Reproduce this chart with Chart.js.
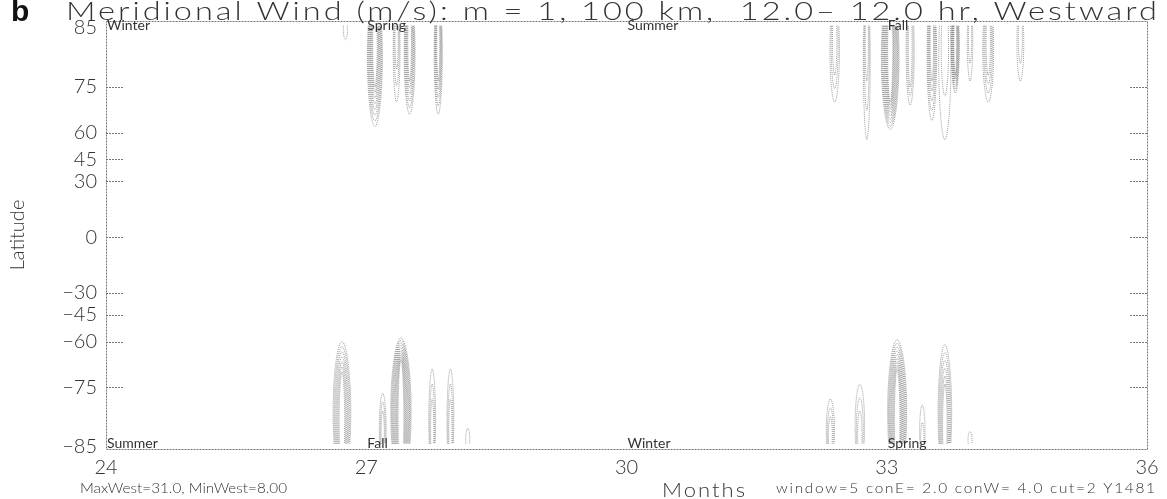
<!DOCTYPE html>
<html>
<head>
<meta charset="utf-8">
<script src="https://cdn.jsdelivr.net/npm/chart.js@4.4.1/dist/chart.umd.min.js"></script>
<style>
  html, body { margin: 0; padding: 0; background: #fff; }
</style>
</head>
<body>
<canvas id="myChart" width="1167" height="499"></canvas>
<script>
// axes
const monthTicks = [24, 27, 30, 33, 36];
const latTicks = [85, 75, 60, 45, 30, 0, -30, -45, -60, -75, -85];
const latNorthEdge = 86.2;
const latSouthEdge = -85.5;

// the latitude axis is stretched toward the poles; axis units per tick latitude
const warpLat = [0, 30, 45, 60, 75, 85];
const warpUnits = [0, 56, 78, 105, 151, 210];

// season markers along the top and bottom edges
const seasonMonths = [24, 27, 30, 33];
const topSeasons = ['Winter', 'Spring', 'Summer', 'Fall'];
const bottomSeasons = ['Summer', 'Fall', 'Winter', 'Spring'];

// contour cells near the north edge (month, half width in months, outer tip lat, inner tip lat, contour count)
const northMonth = [26.76, 27.10, 27.35, 27.50, 27.83, 32.40, 32.77, 33.04, 33.27, 33.52, 33.67, 33.79, 33.96, 34.17, 34.54];
const northHalfWidth = [0.03, 0.11, 0.05, 0.08, 0.06, 0.07, 0.05, 0.13, 0.06, 0.07, 0.09, 0.06, 0.04, 0.08, 0.05];
const northOuterLat = [83, 62, 70, 66, 66, 70, 56, 61, 69, 64, 56, 73, 76, 70, 76];
const northCoreLat = [84, 75, 78, 76, 76, 77, 76, 70, 75, 76, 72, 77, 79, 77, 79];
const northLevels = [1, 8, 3, 6, 5, 3, 3, 9, 3, 5, 2, 6, 2, 4, 2];

// contour cells near the south edge
const southMonth = [26.72, 27.19, 27.40, 27.76, 27.97, 28.17, 32.35, 32.69, 33.12, 33.41, 33.67, 33.96];
const southHalfWidth = [0.13, 0.05, 0.15, 0.05, 0.05, 0.03, 0.06, 0.07, 0.14, 0.04, 0.10, 0.03];
const southOuterLat = [-60, -76, -58, -69, -69, -82, -77, -74, -59, -78, -61, -82.5];
const southCoreLat = [-70, -79, -66, -77, -77, -83.5, -80, -79, -69, -81, -74, -83.5];
const southLevels = [7, 3, 10, 3, 3, 1, 3, 3, 9, 2, 6, 1];

const titleText = 'Meridional Wind (m/s): m = 1, 100 km,  12.0\u2013 12.0 hr, Westward';
const leftNote = 'MaxWest=31.0, MinWest=8.00';
const rightNote = 'window=5 conE= 2.0 conW= 4.0 cut=2 Y1481';

const ink = '#333';
const thin = '"Lato", "DejaVu Sans", sans-serif';

function warp(lat) {
    const a = Math.abs(lat);
    const n = warpLat.length;
    let u;
    if (a >= warpLat[n - 1]) {
        const slope = (warpUnits[n - 1] - warpUnits[n - 2]) / (warpLat[n - 1] - warpLat[n - 2]);
        u = warpUnits[n - 1] + (a - warpLat[n - 1]) * slope;
    } else {
        let i = 1;
        while (warpLat[i] < a) i++;
        const f = (a - warpLat[i - 1]) / (warpLat[i] - warpLat[i - 1]);
        u = warpUnits[i - 1] + f * (warpUnits[i] - warpUnits[i - 1]);
    }
    return lat < 0 ? -u : u;
}

function fmtLat(v) {
    return v < 0 ? '\u2212' + Math.abs(v) : String(v);
}

// draws text stretched to a given width: widen glyphs a little, then space them
function fitText(ctx, text, x, y, width, font, maxStretch) {
    ctx.save();
    ctx.font = font;
    ctx.letterSpacing = '0px';
    const w = ctx.measureText(text).width;
    const sx = Math.min(maxStretch || 1, width / w);
    const sp = (width / sx - w) / Math.max(1, text.length - 1);
    ctx.letterSpacing = sp.toFixed(2) + 'px';
    ctx.textAlign = 'left';
    ctx.translate(x, y);
    ctx.scale(sx, 1);
    ctx.fillText(text, 0, 0);
    ctx.restore();
}

function drawCells(ctx, xs, ys, months, hws, outer, core, levels, baseLat) {
    const yb = ys.getPixelForValue(warp(baseLat));
    for (let i = 0; i < months.length; i++) {
        const n = levels[i];
        const cx = xs.getPixelForValue(months[i]);
        for (let k = 0; k < n; k++) {
            const f = n > 1 ? k / (n - 1) : 0;
            const tipU = warp(outer[i]) + (warp(core[i]) - warp(outer[i])) * f;
            const yt = ys.getPixelForValue(tipU);
            const w = xs.getPixelForValue(months[i] + hws[i] * (1 - 0.8 * k / n)) - cx;
            const h = yt - yb;
            ctx.beginPath();
            ctx.moveTo(cx - w * 0.7, yb);
            ctx.bezierCurveTo(cx - w, yb + 0.55 * h, cx - 0.45 * w, yt, cx, yt);
            ctx.bezierCurveTo(cx + 0.45 * w, yt, cx + w, yb + 0.55 * h, cx + w * 0.7, yb);
            ctx.stroke();
        }
    }
}

const decor = {
    id: 'decor',
    afterDraw(chart) {
        const ctx = chart.ctx;
        const xs = chart.scales.x;
        const ys = chart.scales.y;
        const a = chart.chartArea;

        // frame
        ctx.save();
        ctx.strokeStyle = '#777';
        ctx.lineWidth = 1;
        ctx.setLineDash([2, 1]);
        ctx.strokeRect(a.left + 0.5, a.top + 0.5, a.right - a.left, a.bottom - a.top);

        // inner ticks on both sides
        latTicks.forEach(l => {
            if (Math.abs(l) >= 85) return;
            const y = Math.round(ys.getPixelForValue(warp(l))) + 0.5;
            ctx.beginPath();
            ctx.moveTo(a.left, y); ctx.lineTo(a.left + 18, y);
            ctx.moveTo(a.right, y); ctx.lineTo(a.right - 18, y);
            ctx.stroke();
        });

        // contours
        ctx.strokeStyle = 'rgba(80,80,80,0.55)';
        ctx.setLineDash([1, 1]);
        drawCells(ctx, xs, ys, northMonth, northHalfWidth, northOuterLat, northCoreLat, northLevels, 85.4);
        drawCells(ctx, xs, ys, southMonth, southHalfWidth, southOuterLat, southCoreLat, southLevels, -84.6);
        ctx.restore();

        // season labels
        ctx.save();
        ctx.fillStyle = ink;
        ctx.font = '14px ' + thin;
        ctx.textAlign = 'left';
        ctx.textBaseline = 'alphabetic';
        seasonMonths.forEach((m, i) => {
            const x = xs.getPixelForValue(m) + 1;
            ctx.fillText(topSeasons[i], x, a.top + 9);
            ctx.fillText(bottomSeasons[i], x, a.bottom - 1);
        });
        ctx.restore();

        // titles and notes
        ctx.save();
        ctx.textBaseline = 'alphabetic';
        ctx.font = 'bold 30px "Liberation Sans", Arial, sans-serif';
        ctx.fillStyle = '#111';
        ctx.fillText('b', 11, 21);
        ctx.fillStyle = ink;
        fitText(ctx, titleText, 66, 20, 1091, '300 26px ' + thin, 1.25);
        fitText(ctx, leftNote, 80, 493, 207, '300 14px ' + thin, 1.1);
        fitText(ctx, rightNote, 776, 493, 379, '300 14px ' + thin, 1.1);
        fitText(ctx, 'Months', 662, 497, 83, '300 20px ' + thin, 1.1);
        ctx.restore();
    }
};

const ctx = document.getElementById('myChart');
const myChart = new Chart(ctx, {
    type: 'scatter',
    data: { datasets: [] },
    options: {
        responsive: false,
        animation: false,
        devicePixelRatio: 1,
        layout: { padding: { top: 19, right: 20, left: 0, bottom: 0 } },
        plugins: { legend: { display: false }, tooltip: { enabled: false } },
        scales: {
            x: {
                type: 'linear',
                min: monthTicks[0],
                max: monthTicks[monthTicks.length - 1],
                afterBuildTicks: s => { s.ticks = monthTicks.map(v => ({ value: v })); },
                afterFit: s => { s.height = 50; },
                grid: { display: false, drawTicks: false },
                border: { display: false },
                ticks: {
                    autoSkip: false, maxRotation: 0, padding: 7,
                    color: ink, font: { family: thin, size: 20, weight: 300 }
                }
            },
            y: {
                type: 'linear',
                min: warp(latSouthEdge),
                max: warp(latNorthEdge),
                afterBuildTicks: s => { s.ticks = latTicks.map(l => ({ value: warp(l) })); },
                afterFit: s => { s.width = 106; },
                grid: { display: false, drawTicks: false },
                border: { display: false },
                ticks: {
                    autoSkip: false, padding: 9,
                    color: ink, font: { family: thin, size: 20, weight: 300 },
                    callback: (v, i) => fmtLat(latTicks[i])
                },
                title: {
                    display: true, text: 'Latitude', color: ink,
                    font: { family: thin, size: 20, weight: 300 },
                    padding: { top: 6, bottom: 0 }
                }
            }
        }
    },
    plugins: [decor]
});
</script>
</body>
</html>
